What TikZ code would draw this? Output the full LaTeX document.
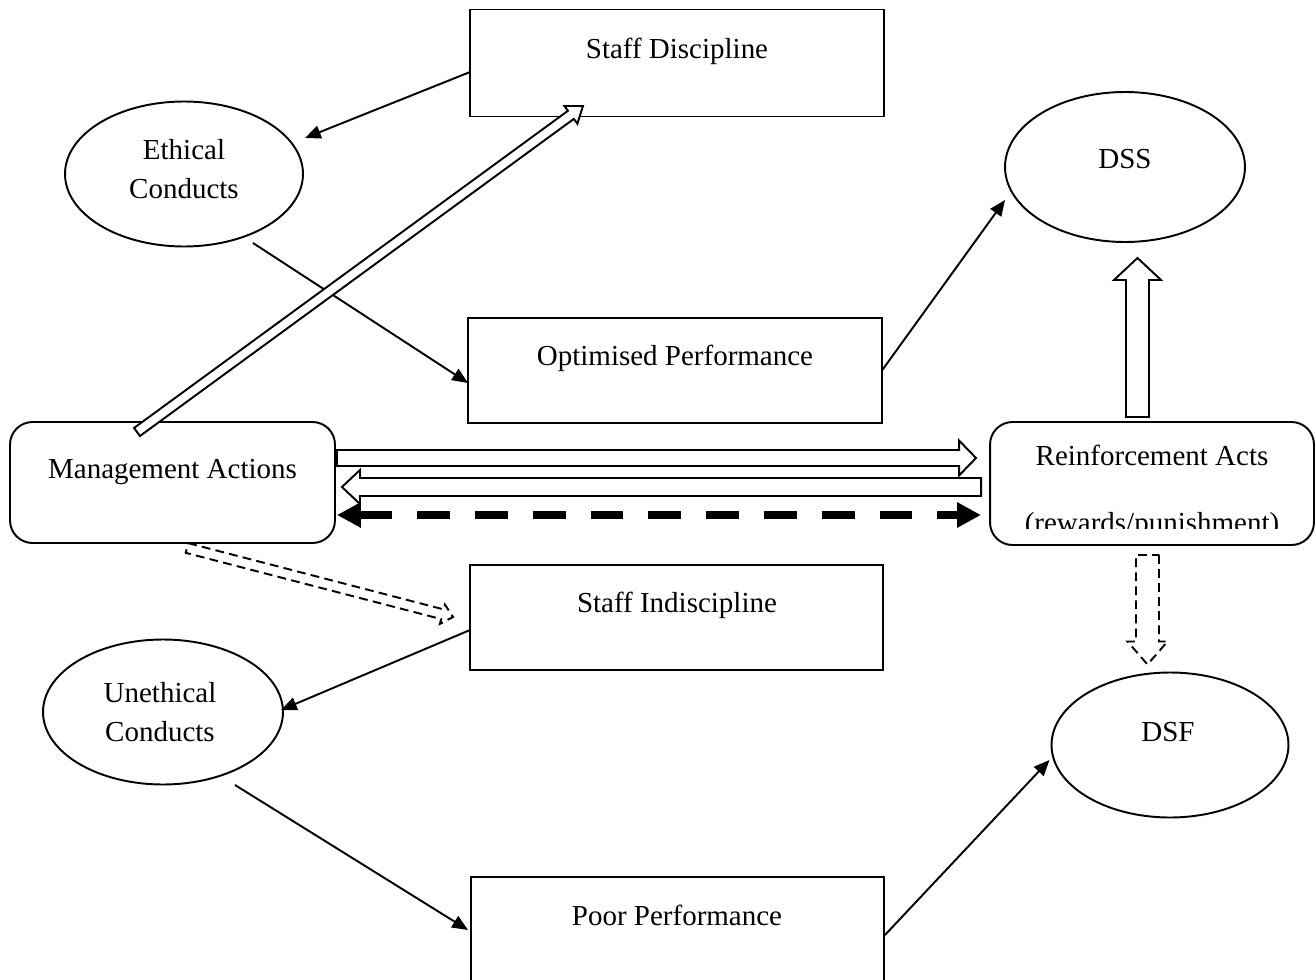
\documentclass[tikz,border=0pt]{standalone}
\usepackage{fontspec}
\setmainfont{Liberation Serif}
\usetikzlibrary{arrows.meta,calc,shapes.geometric}
\tikzset{
  every node/.style={font=\fontsize{16.5}{20}\selectfont},
  box/.style={draw, line width=1.1pt, inner sep=0pt, outer sep=0pt},
  rbox/.style={box, rounded corners=0.45cm},
  ell/.style={draw, ellipse, line width=1.1pt, inner sep=0pt, outer sep=0pt, minimum width=4.76cm, minimum height=2.9cm},
  lbl/.style={anchor=base, inner sep=0pt},
  conn/.style={line width=1.1pt, -{Triangle[length=9pt,width=7.5pt]}},
  hollow/.style={draw, fill=white, line width=1.1pt, line join=miter},
  dhollow/.style={hollow, dash pattern=on 5pt off 3pt},
  thickdash/.style={line width=5pt, dash pattern=on 18.7pt off 14.2pt,
    {Triangle[length=13.6pt,width=13.6pt]}-{Triangle[length=13.6pt,width=13.6pt]}},
}
% #1 style, #2 tail, #3 tip, #4 half shaft, #5 half head, #6 head length
\newcommand\blockarrow[6]{%
  \coordinate (bA) at (#2);
  \coordinate (bB) at (#3);
  \coordinate (bC) at ($(bB)!#6!(bA)$);
  \draw[#1] ($(bA)!#4!90:(bB)$) -- ($(bC)!#4!90:(bB)$) -- ($(bC)!#5!90:(bB)$)
    -- (bB) -- ($(bC)!#5!-90:(bB)$) -- ($(bC)!#4!-90:(bB)$)
    -- ($(bA)!#4!-90:(bB)$) -- cycle;
}
\begin{document}
\begin{tikzpicture}[x=0.02cm,y=-0.02cm]
\useasboundingbox (0,0) rectangle (1316,980);
\clip (0,0) rectangle (1316,980);

% boxes
\node[box, minimum width=8.28cm, minimum height=2.14cm] (sd) at (677,63) {};
\node[box, minimum width=8.28cm, minimum height=2.10cm] (op) at (675,370.5) {};
\node[box, minimum width=8.26cm, minimum height=2.10cm] (si) at (676.5,617.5) {};
\node[box, minimum width=8.26cm, minimum height=2.66cm] (pp) at (677.5,943.5) {};
\node[rbox, minimum width=6.50cm, minimum height=2.42cm] (ma) at (172.5,482.5) {};
\node[rbox, minimum width=6.48cm, minimum height=2.46cm] (ra) at (1152,483.5) {};
% ellipses
\node[ell] (ec) at (184,174) {};
\node[ell, minimum width=4.8cm, minimum height=3.0cm] (dss) at (1125,167) {};
\node[ell, minimum width=4.8cm] (uc) at (163,712) {};
\node[ell, minimum width=4.74cm] (dsf) at (1170,745) {};

% labels
\node[lbl] (sdt) at (677,59) {Staff Discipline};
\node[lbl] (opt) at (675,365) {Optimised Performance};
\node[lbl] (sit) at (677,612) {Staff Indiscipline};
\node[lbl] (ppt) at (677,925) {Poor Performance};
\node[lbl] (mat) at (172.5,478) {Management Actions};
\node[lbl] (rat) at (1152,465) {Reinforcement Acts};
\begin{scope}
  \clip (990,500) rectangle (1314,528);
  \node[lbl] (rat2) at (1152,532) {(rewards/punishment)};
\end{scope}
\node[lbl] (ect1) at (184,160) {Ethical};
\node[lbl] (ect2) at (184,198) {Conducts};
\node[lbl] (dsst) at (1125,169) {DSS};
\node[lbl] (uct1) at (160,702) {Unethical};
\node[lbl] (uct2) at (160,741) {Conducts};
\node[lbl] (dsft) at (1168,741) {DSF};

% plain connectors
\draw[conn] ($(sd.west)+(0,9)$) -- ($(ec.center)+(121,-36)$);
\draw[conn] ($(ec.center)+(69,69)$) -- ($(op.west)+(0,12.5)$);
\draw[conn] (op.east) -- ($(dss.center)+(-120,33)$);
\draw[conn] ($(si.west)+(0,12.5)$) -- ($(uc.east)+(-2,-2)$);
\draw[conn] ($(uc.center)+(72,73)$) -- ($(pp.west)+(-3,-13.5)$);
\draw[conn] ($(pp.east)+(1,-8.5)$) -- ($(dsf.west)+(-2,15)$);

% block arrows
\blockarrow{hollow}{$(ma.center)+(-35.5,-50.5)$}{$(sd.center)+(-94,43)$}{0.1cm}{0.22cm}{0.3cm}
\blockarrow{hollow}{$(ra.north)+(-14.5,-5)$}{$(dss.south)+(12.5,16)$}{0.23cm}{0.47cm}{0.44cm}
\blockarrow{hollow}{$(ma.east)+(2,-24.5)$}{$(ra.west)+(-14,-25.5)$}{0.16cm}{0.35cm}{0.34cm}
\blockarrow{hollow}{$(ra.west)+(-9,3.5)$}{$(ma.east)+(7,4.5)$}{0.18cm}{0.34cm}{0.36cm}
\blockarrow{dhollow}{$(ma.south)+(14.5,5)$}{$(si.west)+(-17,-0.5)$}{0.1cm}{0.2cm}{0.22cm}
\blockarrow{dhollow}{$(ra.south)+(-4.5,10)$}{$(dsf.north)+(-22.5,-8)$}{0.23cm}{0.4cm}{0.46cm}

% thick dashed double arrow
\draw[thickdash] ($(ma.east)+(2,32.5)$) -- ($(ra.west)+(-9,31.5)$);
\end{tikzpicture}
\end{document}
